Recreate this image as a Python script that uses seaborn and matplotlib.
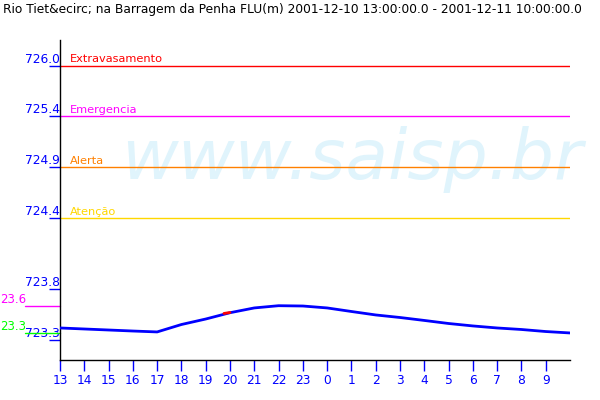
import matplotlib
matplotlib.use("Agg")
import matplotlib.pyplot as plt
import matplotlib.transforms as mtransforms
import seaborn as sns
import pandas as pd

# hourly readings, 2001-12-10 13h -> 2001-12-11 10h
hour_labels = ["13", "14", "15", "16", "17", "18", "19", "20", "21", "22", "23",
               "0", "1", "2", "3", "4", "5", "6", "7", "8", "9", "10"]
level = [723.419, 723.409, 723.399, 723.389, 723.380, 723.453, 723.507, 723.569,
         723.616, 723.638, 723.635, 723.616, 723.581, 723.547, 723.522, 723.493,
         723.463, 723.439, 723.419, 723.404, 723.384, 723.370]

# flagged reading (red) around 20h
flag_hours = [6.75, 7.0]
flag_level = [723.562, 723.571]

# alarm levels
limit_names = ["Extravasamento", "Emergencia", "Alerta", "Atenção"]
limit_values = [726.0, 725.5, 725.0, 724.5]
limit_colors = ["#FF0000", "#FF00FF", "#FF8000", "#FFD700"]

# max / min markers (left part cut off in the original)
mark_labels = ["23.6", "23.3"]
mark_values = [723.635, 723.372]
mark_colors = ["#FF00FF", "#00FF00"]

ytick_values = [726.0, 725.5, 725.0, 724.5, 723.8, 723.3]
ytick_labels = ["726.0", "725.4", "724.9", "724.4", "723.8", "723.3"]

title = ("Rio Tiet&ecirc; na Barragem da Penha FLU(m) "
         "2001-12-10 13:00:00.0 - 2001-12-11 10:00:00.0")

df = pd.DataFrame({"t": range(len(level)), "nivel": level})

sns.set_style("white")
plt.rcParams["font.family"] = ["DejaVu Sans"]

fig = plt.figure(figsize=(6, 4), dpi=100)
ax = fig.add_axes([0.1, 0.1, 0.85, 0.8])

# watermark
ax.text(0.12, 0.565, "www.saisp.br", transform=ax.transAxes, fontsize=50,
        style="italic", color="#E0F4FC", ha="left", va="baseline", zorder=0)

for name, val, col in zip(limit_names, limit_values, limit_colors):
    ax.axhline(val, color=col, lw=1, zorder=2)
    ax.annotate(name, xy=(0.02, val), xycoords=("axes fraction", "data"),
                xytext=(0, 2.5), textcoords="offset points",
                color=col, fontsize=8.2, va="baseline", ha="left")

sns.lineplot(data=df, x="t", y="nivel", ax=ax, color="#0000FF", lw=2, zorder=3)
ax.plot(flag_hours, flag_level, color="#FF0000", lw=2, zorder=4)

trans = mtransforms.blended_transform_factory(ax.transAxes, ax.transData)
for lab, val, col in zip(mark_labels, mark_values, mark_colors):
    ax.plot([-0.069, 0], [val, val], color=col, lw=1, transform=trans, clip_on=False)
    ax.text(-0.1175, val, lab, transform=trans, color=col, fontsize=8.5,
            ha="left", va="bottom")

ax.set_xlim(0, 21)
ax.set_ylim(723.104, 726.251)
ax.set_xticks(range(21))
ax.set_xticklabels(hour_labels[:21])
ax.set_yticks(ytick_values)
ax.set_yticklabels(ytick_labels)
ax.set_xlabel("")
ax.set_ylabel("")

ax.tick_params(axis="x", direction="out", length=8, width=1, color="#0000FF",
               labelcolor="#0000FF", labelsize=8.8, pad=2, bottom=True)
ax.tick_params(axis="y", direction="out", length=8, width=1, color="#0000FF",
               labelcolor="#0000FF", labelsize=8.8, pad=-8, left=True)
for lbl in ax.get_yticklabels():
    lbl.set_va("bottom")

for side in ["top", "right"]:
    ax.spines[side].set_visible(False)
for side in ["left", "bottom"]:
    ax.spines[side].set_color("black")
    ax.spines[side].set_linewidth(1)

fig.text(0.005, 0.975, title, fontsize=8.8, color="black", ha="left", va="center")

fig.savefig("out.png", dpi=100)
